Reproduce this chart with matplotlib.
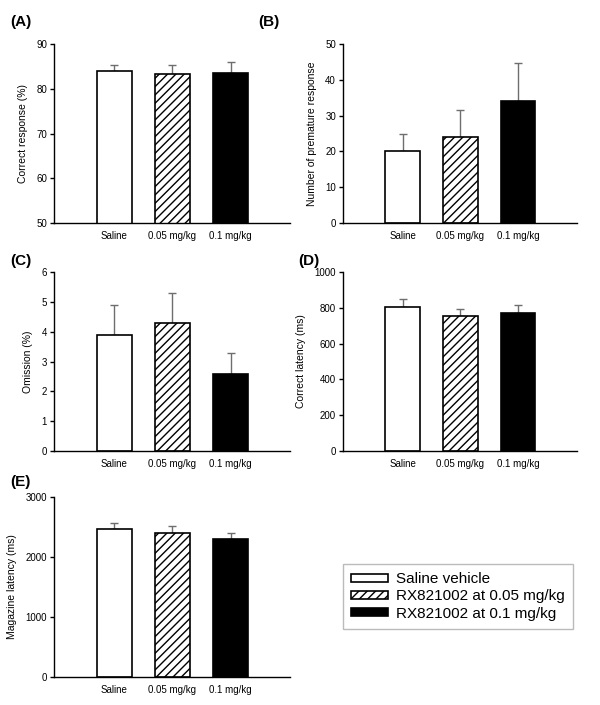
import matplotlib
matplotlib.use("Agg")
import matplotlib.pyplot as plt
from matplotlib.patches import Patch

plt.rcParams['font.family'] = ['Liberation Sans', 'DejaVu Sans']
plt.rcParams['hatch.linewidth'] = 1.0

groups = ["Saline", "0.05 mg/kg", "0.1 mg/kg"]
legend_labels = ["Saline vehicle", "RX821002 at 0.05 mg/kg", "RX821002 at 0.1 mg/kg"]

correct_resp = [83.9, 83.4, 83.5]
correct_resp_err = [1.5, 2.0, 2.4]
premature = [20.0, 24.1, 34.1]
premature_err = [4.9, 7.6, 10.6]
omission = [3.9, 4.3, 2.57]
omission_err = [1.0, 1.0, 0.72]
corr_latency = [802, 755, 770]
corr_latency_err = [48, 38, 45]
mag_latency = [2470, 2404, 2303]
mag_latency_err = [95, 111, 101]

panels = [
    ("(A)", correct_resp, correct_resp_err, "Correct response (%)", (50, 90), [50, 60, 70, 80, 90]),
    ("(B)", premature, premature_err, "Number of premature response", (0, 50), [0, 10, 20, 30, 40, 50]),
    ("(C)", omission, omission_err, "Omission (%)", (0, 6), [0, 1, 2, 3, 4, 5, 6]),
    ("(D)", corr_latency, corr_latency_err, "Correct latency (ms)", (0, 1000), [0, 200, 400, 600, 800, 1000]),
    ("(E)", mag_latency, mag_latency_err, "Magazine latency (ms)", (0, 3000), [0, 1000, 2000, 3000]),
]

W, H = 600, 705
# axes boxes in pixels: left, top, right, bottom
boxes = [(54, 44, 290, 223), (343, 44, 577, 223),
         (54, 272, 290, 451), (343, 272, 577, 451),
         (54, 497, 290, 677)]
# panel label positions in pixels
label_pos = [(10, 22), (258, 22), (10, 261), (298, 261), (10, 482)]

face = ["white", "white", "black"]
hatches = [None, "////", None]

fig = plt.figure(figsize=(6, 7.05), dpi=100)

for (lab, vals, errs, ylab, ylim, yticks), (l, t, r, b), (lx, ly) in zip(panels, boxes, label_pos):
    ax = fig.add_axes([l / W, 1 - b / H, (r - l) / W, (b - t) / H])
    x = range(len(groups))
    ax.errorbar(x, vals, yerr=[[0] * 3, errs], fmt='none', ecolor='#6e6e6e',
                elinewidth=1.0, capsize=3, capthick=1.0, zorder=1)
    for i in x:
        ax.bar(i, vals[i], width=0.6, color=face[i], edgecolor='black',
               hatch=hatches[i], linewidth=1.2, zorder=2)
    ax.set_xlim(-1.03, 3.02)
    ax.set_ylim(*ylim)
    ax.set_yticks(yticks)
    ax.set_xticks(list(x))
    ax.set_xticklabels(groups, fontsize=7)
    ax.tick_params(axis='x', length=0, pad=6)
    ax.tick_params(axis='y', labelsize=7, length=3, width=1, direction='out', pad=2)
    ax.set_ylabel(ylab, fontsize=7.5, labelpad=6)
    for s in ['top', 'right']:
        ax.spines[s].set_visible(False)
    for s in ['left', 'bottom']:
        ax.spines[s].set_linewidth(1.0)
    fig.text(lx / W, 1 - ly / H, lab, fontsize=11, fontweight='bold', va='center', ha='left')

handles = [Patch(facecolor=face[i], edgecolor='black', hatch=hatches[i], linewidth=1.2)
           for i in range(3)]
leg = fig.legend(handles, legend_labels, loc='upper left',
                 bbox_to_anchor=(343 / W, 1 - 564 / H), borderaxespad=0,
                 fontsize=11, handlelength=2.4, handleheight=0.45,
                 handletextpad=0.5, labelspacing=0.2, borderpad=0.55,
                 fancybox=False, frameon=True)
leg.get_frame().set_edgecolor('#aaaaaa')
leg.get_frame().set_linewidth(1.0)

fig.savefig("out.png", dpi=100)
